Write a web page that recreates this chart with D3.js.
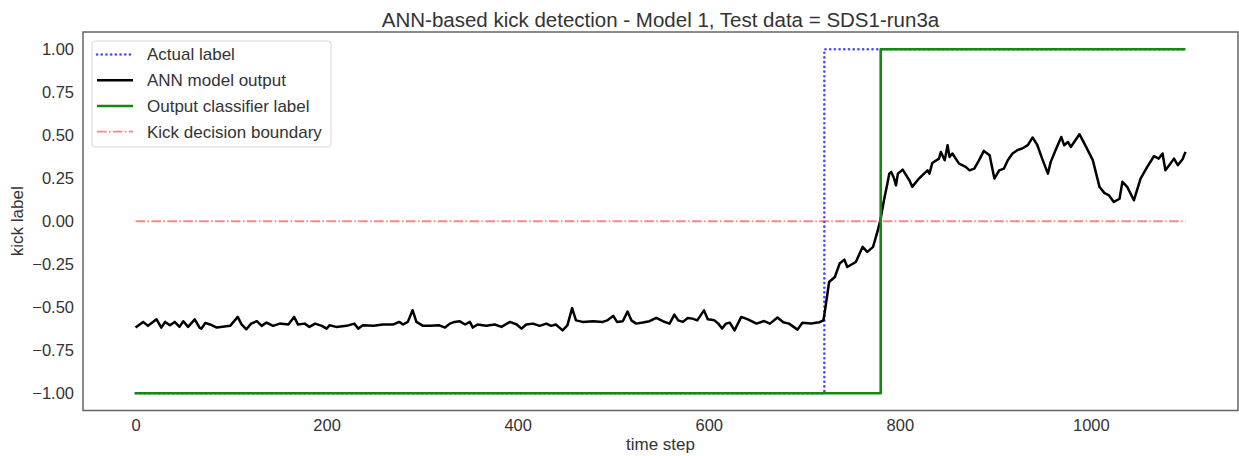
<!DOCTYPE html>
<html>
<head>
<meta charset="utf-8">
<script src="https://cdn.jsdelivr.net/npm/d3@7"></script>
<style>
  html, body { margin: 0; padding: 0; background: #fff; }
  svg { display: block; font-family: Arial, "Liberation Sans", "DejaVu Sans", sans-serif; }
</style>
</head>
<body>
<svg id="chart" width="1239" height="456"></svg>
<script>
// ---- data ----
const titleText = "ANN-based kick detection - Model 1, Test data = SDS1-run3a";
const xLabel = "time step";
const yLabel = "kick label";
const xTicks = [0, 200, 400, 600, 800, 1000];
const yTicks = [1.00, 0.75, 0.50, 0.25, 0.00, -0.25, -0.50, -0.75, -1.00];

// Actual label (step changes)
const actualT = [0, 721, 1099];
const actualV = [-1, 1, 1];
// Output classifier label (step changes)
const classT = [0, 780, 1099];
const classV = [-1, 1, 1];
// Kick decision boundary
const boundaryT = [0, 1099];
const boundaryV = [0, 0];

// ANN model output
const annT = [0,8,13,22,27,31,36,41,46,50,55,62,67,69,73,78,85,99,107,111,116,121,127,132,137,144,151,160,166,170,177,182,188,195,200,203,210,221,229,233,238,249,259,270,276,280,285,290,294,301,308,318,324,329,334,339,345,350,353,358,367,376,383,392,399,404,409,416,423,430,435,440,447,452,457,461,468,479,489,494,500,504,510,515,519,524,531,538,545,552,559,564,568,573,578,583,588,595,599,606,610,614,618,622,627,634,641,650,658,664,672,678,684,693,698,707,712,716,720,722,726,732,737,742,745,754,761,766,772,777,780,783,787,789,791,794,796,798,803,810,813,820,824,829,831,834,841,843,847,850,852,855,862,869,873,878,883,888,894,899,904,909,913,918,923,928,934,939,944,949,955,958,963,969,972,976,979,988,995,1002,1009,1014,1019,1024,1030,1033,1038,1045,1052,1059,1066,1071,1075,1078,1082,1087,1091,1096,1099];
const annV = [-0.618,-0.585,-0.608,-0.570,-0.618,-0.585,-0.605,-0.585,-0.614,-0.581,-0.614,-0.570,-0.618,-0.624,-0.591,-0.600,-0.618,-0.608,-0.556,-0.600,-0.628,-0.595,-0.581,-0.608,-0.589,-0.608,-0.595,-0.600,-0.556,-0.600,-0.595,-0.614,-0.595,-0.608,-0.624,-0.605,-0.614,-0.608,-0.595,-0.624,-0.605,-0.608,-0.600,-0.600,-0.585,-0.600,-0.585,-0.517,-0.585,-0.608,-0.608,-0.605,-0.618,-0.595,-0.585,-0.581,-0.600,-0.585,-0.618,-0.600,-0.608,-0.600,-0.614,-0.585,-0.600,-0.624,-0.600,-0.595,-0.608,-0.595,-0.608,-0.600,-0.634,-0.605,-0.505,-0.576,-0.585,-0.581,-0.585,-0.576,-0.550,-0.585,-0.581,-0.525,-0.576,-0.595,-0.589,-0.581,-0.562,-0.581,-0.595,-0.543,-0.576,-0.585,-0.562,-0.566,-0.576,-0.518,-0.570,-0.576,-0.595,-0.624,-0.595,-0.589,-0.634,-0.556,-0.570,-0.595,-0.580,-0.595,-0.560,-0.587,-0.595,-0.630,-0.590,-0.595,-0.590,-0.587,-0.576,-0.508,-0.353,-0.324,-0.246,-0.223,-0.266,-0.237,-0.149,-0.178,-0.149,-0.052,0.016,0.110,0.219,0.277,0.287,0.248,0.209,0.277,0.300,0.238,0.200,0.248,0.270,0.296,0.277,0.339,0.364,0.403,0.355,0.442,0.374,0.394,0.335,0.316,0.296,0.306,0.355,0.409,0.384,0.248,0.296,0.306,0.355,0.394,0.413,0.423,0.442,0.487,0.442,0.364,0.277,0.345,0.413,0.490,0.442,0.461,0.432,0.506,0.432,0.355,0.200,0.165,0.150,0.112,0.131,0.229,0.200,0.122,0.248,0.316,0.378,0.364,0.394,0.296,0.326,0.364,0.326,0.360,0.403];

const legendLabels = ["Actual label", "ANN model output", "Output classifier label", "Kick decision boundary"];

// ---- layout ----
const W = 1239, H = 456;
const plot = { left: 83, right: 1238, top: 32, bottom: 410.5 };
const textColor = "#333";

const svg = d3.select("#chart");

const x = d3.scaleLinear().domain([-55, 1154]).range([plot.left, plot.right]);
const y = d3.scaleLinear().domain([-1.1, 1.1]).range([plot.bottom, plot.top]);

const zip = (ts, vs) => ts.map((t, i) => [t, vs[i]]);

// clip
svg.append("defs").append("clipPath").attr("id", "clip")
  .append("rect").attr("x", plot.left).attr("y", plot.top)
  .attr("width", plot.right - plot.left).attr("height", plot.bottom - plot.top);

const g = svg.append("g").attr("clip-path", "url(#clip)");

const stepLine = d3.line().x(d => x(d[0])).y(d => y(d[1])).curve(d3.curveStepAfter);
const line = d3.line().x(d => x(d[0])).y(d => y(d[1])).curve(d3.curveLinear);

const styles = {
  actual: { stroke: "#2a2aff", width: 2.6, dash: "0.1,4.6", opacity: 0.85, cap: "round" },
  ann: { stroke: "#000000", width: 2.5, dash: null, opacity: 1, cap: "butt" },
  cls: { stroke: "#118a11", width: 2.6, dash: null, opacity: 1, cap: "butt" },
  bnd: { stroke: "#ff3333", width: 1.8, dash: "9.6,2.4,1.5,2.4", opacity: 0.6, cap: "butt" }
};

function drawPath(data, gen, st) {
  g.append("path").datum(data)
    .attr("d", gen)
    .attr("fill", "none")
    .attr("stroke", st.stroke)
    .attr("stroke-width", st.width)
    .attr("stroke-dasharray", st.dash)
    .attr("stroke-opacity", st.opacity)
    .attr("stroke-linejoin", "round")
    .attr("stroke-linecap", st.cap);
}

drawPath(zip(actualT, actualV), stepLine, styles.actual);
drawPath(zip(annT, annV), line, styles.ann);
drawPath(zip(classT, classV), stepLine, styles.cls);
drawPath(zip(boundaryT, boundaryV), line, styles.bnd);

// axes (no tick marks, seaborn white style)
const xAxis = d3.axisBottom(x).tickValues(xTicks).tickSize(0).tickPadding(9).tickFormat(d3.format("d"));
const yAxis = d3.axisLeft(y).tickValues(yTicks).tickSize(0).tickPadding(9).tickFormat(d => d3.format(".2f")(d).replace("-", "\u2212"));

const gx = svg.append("g").attr("transform", `translate(0,${plot.bottom})`).call(xAxis);
gx.select(".domain").remove();
gx.selectAll("text").attr("font-size", 16.5).attr("fill", textColor).attr("font-family", null);

const gy = svg.append("g").attr("transform", `translate(${plot.left},0)`).call(yAxis);
gy.select(".domain").remove();
gy.selectAll("text").attr("font-size", 16.5).attr("fill", textColor).attr("font-family", null);

// frame
svg.append("rect")
  .attr("x", plot.left).attr("y", plot.top)
  .attr("width", plot.right - plot.left).attr("height", plot.bottom - plot.top)
  .attr("fill", "none").attr("stroke", "#666").attr("stroke-width", 1.5);

// title & labels
svg.append("text").attr("x", (plot.left + plot.right) / 2).attr("y", 27)
  .attr("text-anchor", "middle").attr("font-size", 20.5).attr("fill", textColor).text(titleText);
svg.append("text").attr("x", (plot.left + plot.right) / 2).attr("y", 450)
  .attr("text-anchor", "middle").attr("font-size", 17).attr("fill", textColor).text(xLabel);
svg.append("text").attr("transform", `translate(23,${y(0)}) rotate(-90)`)
  .attr("text-anchor", "middle").attr("font-size", 17).attr("fill", textColor).text(yLabel);

// legend
const leg = svg.append("g");
leg.append("rect").attr("x", 92).attr("y", 41).attr("width", 239).attr("height", 106)
  .attr("rx", 3).attr("fill", "#fff").attr("fill-opacity", 0.8)
  .attr("stroke", "#d8d8d8").attr("stroke-width", 1);
const legStyles = [styles.actual, styles.ann, styles.cls, styles.bnd];
const rowY = [54.5, 80.2, 106, 131.6];
legendLabels.forEach((lab, i) => {
  const st = legStyles[i];
  leg.append("line").attr("x1", 97).attr("x2", 133).attr("y1", rowY[i]).attr("y2", rowY[i])
    .attr("stroke", st.stroke).attr("stroke-width", st.width)
    .attr("stroke-dasharray", st.dash).attr("stroke-opacity", st.opacity)
    .attr("stroke-linecap", st.cap);
  leg.append("text").attr("x", 147).attr("y", rowY[i]).attr("dy", "0.35em")
    .attr("font-size", 17).attr("fill", textColor).text(lab);
});
</script>
</body>
</html>
